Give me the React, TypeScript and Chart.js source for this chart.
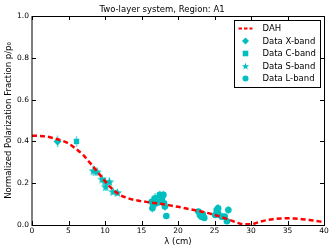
import React, { useEffect, useRef } from "react";
import { Chart, registerables } from "chart.js";

Chart.register(...registerables);

const FONT = "'DejaVu Sans', sans-serif";
const CYAN = "#00bfbf";
const ERR_CYAN = "rgba(0,191,191,0.55)";

const chartTitle = "Two-layer system, Region: A1";
const xAxisTitle = "λ (cm)";
const yAxisTitle = "Normalized Polarization Fraction p/p₀";
const legendLabels = ["DAH", "Data X-band", "Data C-band", "Data S-band", "Data L-band"];

const xMin = 0;
const xMax = 40;
const xStep = 5;
const yMin = 0;
const yMax = 1;
const yStep = 0.2;

// DAH model curve
const dahLambda = [0, 1, 2, 3, 4, 5, 6, 7, 8, 9, 10, 11, 12, 13, 14, 15, 16, 17, 18, 19, 20, 21, 22, 23, 24, 25, 26, 27, 28, 29, 30, 31, 32, 33, 34, 35, 36, 37, 38, 39, 40];
const dahP = [0.427, 0.426, 0.423, 0.415, 0.405, 0.39, 0.365, 0.335, 0.295, 0.253, 0.21, 0.172, 0.145, 0.13, 0.12, 0.114, 0.109, 0.104, 0.099, 0.093, 0.087, 0.08, 0.073, 0.066, 0.058, 0.048, 0.037, 0.025, 0.013, 0.003, 0.003, 0.013, 0.022, 0.028, 0.031, 0.032, 0.031, 0.028, 0.024, 0.019, 0.014];

// X-band
const xBandLambda = [3.5];
const xBandP = [0.4];
const xBandPErr = [0.028];
const xBandLambdaErr = [0.2];

// C-band
const cBandLambda = [6.1];
const cBandP = [0.4];
const cBandPErr = [0.025];
const cBandLambdaErr = [0.2];

// S-band
const sBandLambda = [8.4, 8.9, 9.6, 10.0, 10.1, 10.6, 11.1, 11.7];
const sBandP = [0.26, 0.255, 0.22, 0.207, 0.183, 0.207, 0.16, 0.155];
const sBandPErr = [0.025, 0.02, 0.02, 0.02, 0.02, 0.02, 0.015, 0.015];
const sBandLambdaErr = [0.3, 0.3, 0.3, 0.3, 0.3, 0.3, 0.3, 0.3];

// L-band
const lBandLambda = [16.4, 16.5, 16.6, 16.85, 17.0, 17.45, 17.5, 17.8, 18.0, 18.1, 18.2, 18.4, 22.8, 23.0, 23.2, 23.4, 23.6, 25.1, 25.3, 25.5, 25.5, 26.0, 26.4, 26.7, 26.9];
const lBandP = [0.111, 0.08, 0.096, 0.128, 0.104, 0.111, 0.144, 0.128, 0.144, 0.104, 0.088, 0.043, 0.064, 0.048, 0.04, 0.051, 0.034, 0.048, 0.072, 0.056, 0.08, 0.04, 0.04, 0.018, 0.072];
const lBandPErr = [0.025, 0.02, 0.02, 0.025, 0.02, 0.02, 0.02, 0.02, 0.02, 0.02, 0.02, 0.015, 0.015, 0.015, 0.015, 0.015, 0.015, 0.015, 0.025, 0.02, 0.02, 0.015, 0.015, 0.015, 0.02];
const lBandLambdaErr = lBandLambda.map(() => 0.2);

function toPts(xs: number[], ys: number[]) {
  return xs.map((x, i) => ({ x, y: ys[i] }));
}

function starPath(ctx: CanvasRenderingContext2D, cx: number, cy: number, r: number) {
  const ri = r * 0.42;
  ctx.beginPath();
  for (let k = 0; k < 10; k++) {
    const rad = k % 2 === 0 ? r : ri;
    const a = -Math.PI / 2 + (k * Math.PI) / 5;
    const px = cx + rad * Math.cos(a);
    const py = cy + rad * Math.sin(a);
    if (k === 0) ctx.moveTo(px, py);
    else ctx.lineTo(px, py);
  }
  ctx.closePath();
}

function makeStar(size: number, r: number) {
  const c = document.createElement("canvas");
  c.width = size;
  c.height = size;
  const g = c.getContext("2d")!;
  g.fillStyle = CYAN;
  starPath(g, size / 2, size / 2 + 0.5, r);
  g.fill();
  return c;
}

const errorBarPlugin = {
  id: "errorBars",
  beforeDatasetsDraw(chart: any) {
    const { ctx } = chart;
    const xs = chart.scales.x;
    const ys = chart.scales.y;
    ctx.save();
    ctx.strokeStyle = ERR_CYAN;
    ctx.lineWidth = 1.5;
    chart.data.datasets.forEach((ds: any) => {
      if (!ds.yErr) return;
      ds.data.forEach((pt: any, j: number) => {
        const x = xs.getPixelForValue(pt.x);
        const y = ys.getPixelForValue(pt.y);
        ctx.beginPath();
        ctx.moveTo(x, ys.getPixelForValue(pt.y - ds.yErr[j]));
        ctx.lineTo(x, ys.getPixelForValue(pt.y + ds.yErr[j]));
        ctx.moveTo(xs.getPixelForValue(pt.x - ds.xErr[j]), y);
        ctx.lineTo(xs.getPixelForValue(pt.x + ds.xErr[j]), y);
        ctx.stroke();
      });
    });
    ctx.restore();
  },
};

const framePlugin = {
  id: "frame",
  afterDatasetsDraw(chart: any) {
    const { ctx, chartArea: a } = chart;
    const xs = chart.scales.x;
    const ys = chart.scales.y;
    ctx.save();
    ctx.strokeStyle = "#000";
    ctx.lineWidth = 1;
    ctx.strokeRect(a.left, a.top + 0.5, a.right - a.left + 0.5, a.bottom - a.top);
    ctx.beginPath();
    const tl = 4;
    for (let v = xMin; v <= xMax; v += xStep) {
      const px = Math.round(xs.getPixelForValue(v)) + 0.5;
      ctx.moveTo(px, a.bottom);
      ctx.lineTo(px, a.bottom - tl);
      ctx.moveTo(px, a.top);
      ctx.lineTo(px, a.top + tl);
    }
    for (let v = yMin; v <= yMax + 1e-9; v += yStep) {
      const py = Math.round(ys.getPixelForValue(v)) + 0.5;
      ctx.moveTo(a.left, py);
      ctx.lineTo(a.left + tl, py);
      ctx.moveTo(a.right, py);
      ctx.lineTo(a.right - tl, py);
    }
    ctx.stroke();
    ctx.restore();
  },
};

const legendPlugin = {
  id: "customLegend",
  afterDraw(chart: any) {
    const { ctx, chartArea: a } = chart;
    const bx = Math.round(a.right) - 90 + 0.5;
    const by = Math.round(a.top) + 4 + 0.5;
    const bw = 86;
    const bh = 67;
    ctx.save();
    ctx.fillStyle = "#fff";
    ctx.fillRect(bx, by, bw, bh);
    ctx.strokeStyle = "#000";
    ctx.lineWidth = 1;
    ctx.strokeRect(bx, by, bw, bh);
    const mx = bx + 11;
    const tx = bx + 28;
    const rowY = (i: number) => by + 8 + i * 12.5;
    ctx.font = `8.5px ${FONT}`;
    ctx.textBaseline = "middle";
    ctx.textAlign = "left";
    legendLabels.forEach((label, i) => {
      const y = rowY(i);
      if (i === 0) {
        ctx.strokeStyle = "#ff0000";
        ctx.lineWidth = 2;
        ctx.setLineDash([3.5, 2]);
        ctx.beginPath();
        ctx.moveTo(mx - 7, y);
        ctx.lineTo(mx + 7, y);
        ctx.stroke();
        ctx.setLineDash([]);
      } else {
        ctx.fillStyle = CYAN;
        ctx.beginPath();
        if (i === 1) {
          ctx.moveTo(mx, y - 3.5);
          ctx.lineTo(mx + 3.5, y);
          ctx.lineTo(mx, y + 3.5);
          ctx.lineTo(mx - 3.5, y);
          ctx.closePath();
          ctx.fill();
        } else if (i === 2) {
          ctx.fillRect(mx - 2.8, y - 2.8, 5.6, 5.6);
        } else if (i === 3) {
          starPath(ctx, mx, y + 0.5, 3.8);
          ctx.fill();
        } else {
          ctx.arc(mx, y, 3, 0, Math.PI * 2);
          ctx.fill();
        }
      }
      ctx.fillStyle = "#000";
      ctx.fillText(label, tx, y + 0.5);
    });
    ctx.restore();
  },
};

export default function App() {
  const ref = useRef<HTMLCanvasElement | null>(null);

  useEffect(() => {
    if (!ref.current) return;
    const star = makeStar(11, 5);
    const chart = new Chart(ref.current, {
      type: "scatter",
      data: {
        datasets: [
          {
            label: legendLabels[0],
            data: toPts(dahLambda, dahP),
            showLine: true,
            borderColor: "#ff0000",
            borderWidth: 2.5,
            borderDash: [5, 3],
            pointRadius: 0,
            cubicInterpolationMode: "monotone",
            order: 0,
          } as any,
          {
            label: legendLabels[1],
            data: toPts(xBandLambda, xBandP),
            yErr: xBandPErr,
            xErr: xBandLambdaErr,
            pointStyle: "rectRot",
            pointRadius: 4,
            backgroundColor: CYAN,
            borderColor: CYAN,
            borderWidth: 0,
            order: 1,
          } as any,
          {
            label: legendLabels[2],
            data: toPts(cBandLambda, cBandP),
            yErr: cBandPErr,
            xErr: cBandLambdaErr,
            pointStyle: "rect",
            pointRadius: 3.8,
            backgroundColor: CYAN,
            borderColor: CYAN,
            borderWidth: 0,
            order: 1,
          } as any,
          {
            label: legendLabels[3],
            data: toPts(sBandLambda, sBandP),
            yErr: sBandPErr,
            xErr: sBandLambdaErr,
            pointStyle: star,
            pointRadius: 5,
            backgroundColor: CYAN,
            borderColor: CYAN,
            order: 1,
          } as any,
          {
            label: legendLabels[4],
            data: toPts(lBandLambda, lBandP),
            yErr: lBandPErr,
            xErr: lBandLambdaErr,
            pointStyle: "circle",
            pointRadius: 3.3,
            backgroundColor: CYAN,
            borderColor: CYAN,
            borderWidth: 0,
            order: 1,
          } as any,
        ],
      },
      options: {
        animation: false,
        responsive: false,
        devicePixelRatio: 1,
        layout: { padding: { left: 0, right: 12, top: 0, bottom: 0 } },
        plugins: {
          legend: { display: false },
          tooltip: { enabled: false },
          title: {
            display: true,
            text: chartTitle,
            color: "#000",
            font: { family: FONT, size: 8.5, weight: "normal", lineHeight: 1.2 },
            padding: { top: 4.5, bottom: 1.3 },
          },
        },
        scales: {
          x: {
            type: "linear",
            min: xMin,
            max: xMax,
            grid: { display: false, drawTicks: false },
            border: { display: false },
            ticks: {
              stepSize: xStep,
              color: "#000",
              font: { family: FONT, size: 7.5 },
              padding: 2,
              maxRotation: 0,
              callback: (v: any) => String(v),
            },
            title: {
              display: true,
              text: xAxisTitle,
              color: "#000",
              font: { family: FONT, size: 8.5 },
              padding: { top: 0, bottom: 5.4 },
            },
            afterFit: (s: any) => {
              s.height = 27;
            },
          },
          y: {
            type: "linear",
            min: yMin,
            max: yMax,
            grid: { display: false, drawTicks: false },
            border: { display: false },
            ticks: {
              stepSize: yStep,
              color: "#000",
              font: { family: FONT, size: 7.5 },
              padding: 3,
              callback: (v: any) => Number(v).toFixed(1),
            },
            title: {
              display: true,
              text: yAxisTitle,
              color: "#000",
              font: { family: FONT, size: 8.5 },
              padding: { top: 3.5, bottom: 0 },
            },
            afterFit: (s: any) => {
              s.width = 32;
            },
          },
        },
      } as any,
      plugins: [errorBarPlugin, framePlugin, legendPlugin],
    });
    return () => chart.destroy();
  }, []);

  return (
    <div style={{ position: "fixed", left: 0, top: 0, width: 336, height: 252, background: "#fff" }}>
      <canvas ref={ref} width={336} height={252} style={{ display: "block", width: 336, height: 252 }} />
    </div>
  );
}
